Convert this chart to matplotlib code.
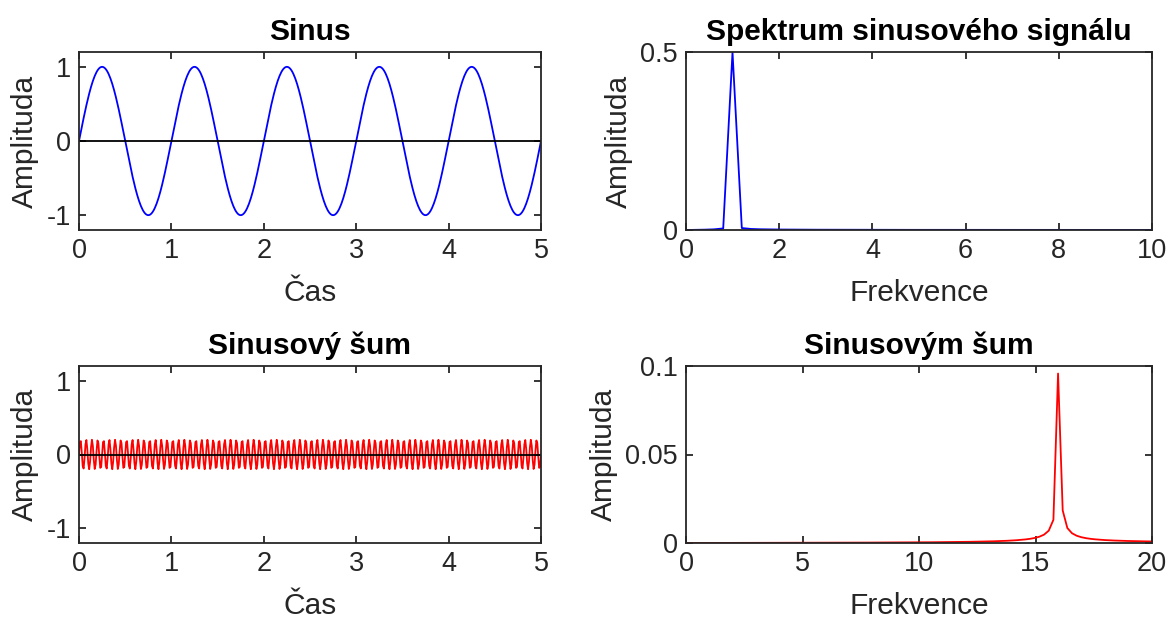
import numpy as np
import matplotlib
matplotlib.use("Agg")
import matplotlib.pyplot as plt

# ---- data (signal parameters) ----
fs = 100.0                 # sampling rate [Hz]
duration = 5.0             # [s]
sine_freq = 1.0            # [Hz]
sine_amp = 1.0
noise_freq = 16.0          # [Hz]
noise_amp = 0.2

t = np.arange(0, duration + 1e-9, 1 / fs)
sine = sine_amp * np.sin(2 * np.pi * sine_freq * t)
noise = noise_amp * np.sin(2 * np.pi * noise_freq * t)
N = len(t)
freqs = np.arange(N) * fs / N
sine_spec = np.abs(np.fft.fft(sine)) / N
noise_spec = np.abs(np.fft.fft(noise)) / N

titles = ["Sinus", "Spektrum sinusového signálu", "Sinusový šum", "Sinusovým šum"]
xlabels = ["Čas", "Frekvence", "Čas", "Frekvence"]
ylabel = "Amplituda"

plt.rcParams['font.family'] = ['Liberation Sans', 'DejaVu Sans']
plt.rcParams['axes.unicode_minus'] = False

W, H = 1168, 620
fig = plt.figure(figsize=(W / 100, H / 100), dpi=100)

def px_axes(x0, x1, y0, y1):
    return fig.add_axes([x0 / W, 1 - y1 / H, (x1 - x0) / W, (y1 - y0) / H])

ax1 = px_axes(79, 541, 52, 230)
ax2 = px_axes(686, 1152, 52, 230)
ax3 = px_axes(79, 541, 366, 543)
ax4 = px_axes(686, 1152, 366, 543)

dark = (0.15, 0.15, 0.15)
tick_fs = 19.5
lab_fs = 21.5

ax1.plot(t, sine, color='#0000FF', lw=1.3)
ax1.plot(t, np.zeros_like(t), color='black', lw=1.3)
ax1.set_xlim(0, 5); ax1.set_ylim(-1.2, 1.2)
ax1.set_xticks([0, 1, 2, 3, 4, 5]); ax1.set_yticks([-1, 0, 1])

ax2.plot(freqs, sine_spec, color='#0000FF', lw=1.3)
ax2.set_xlim(0, 10); ax2.set_ylim(0, 0.5)
ax2.set_xticks([0, 2, 4, 6, 8, 10]); ax2.set_yticks([0, 0.5])
ax2.set_yticklabels(['0', '0.5'])

ax3.plot(t, noise, color='#FF0000', lw=1.3)
ax3.plot(t, np.zeros_like(t), color='black', lw=1.3)
ax3.set_xlim(0, 5); ax3.set_ylim(-1.2, 1.2)
ax3.set_xticks([0, 1, 2, 3, 4, 5]); ax3.set_yticks([-1, 0, 1])

ax4.plot(freqs, noise_spec, color='#FF0000', lw=1.3)
ax4.set_xlim(0, 20); ax4.set_ylim(0, 0.1)
ax4.set_xticks([0, 5, 10, 15, 20]); ax4.set_yticks([0, 0.05, 0.1])
ax4.set_yticklabels(['0', '0.05', '0.1'])

for ax, ti, xl in zip([ax1, ax2, ax3, ax4], titles, xlabels):
    ax.set_title(ti, fontsize=lab_fs, fontweight='bold', color='black', pad=8.5)
    ax.set_xlabel(xl, fontsize=lab_fs, color=dark, labelpad=10.5)
    ax.set_ylabel(ylabel, fontsize=lab_fs, color=dark, labelpad=5)
    ax.tick_params(direction='in', top=True, right=True, length=5, width=1.3,
                   colors=dark, labelsize=tick_fs, pad=6)
    for s in ax.spines.values():
        s.set_color(dark)
        s.set_linewidth(1.3)

fig.savefig("out.png", dpi=100)
